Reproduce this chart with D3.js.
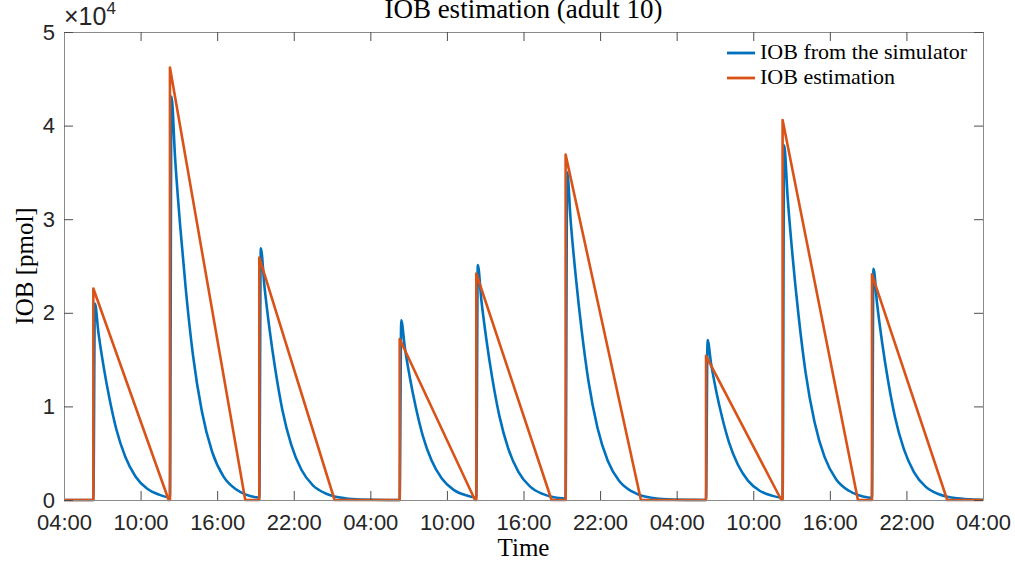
<!DOCTYPE html>
<html>
<head>
<meta charset="utf-8">
<script src="https://cdn.jsdelivr.net/npm/d3@7"></script>
<style>
  html, body { margin: 0; padding: 0; background: #fff; }
  svg { display: block; }
</style>
</head>
<body>
<div id="canvas"></div>
<script>
"use strict";

/* size of the picture */
let svgWidth = 1015;
let svgHeight = 567;
let plotLeft = 64, plotRight = 983, plotTop = 32, plotBottom = 500;

/* x axis: hours after 04:00 on day one */
let tickHours = [0, 6, 12, 18, 24, 30, 36, 42, 48, 54, 60, 66, 72];
let tickLabels = ["04:00", "10:00", "16:00", "22:00", "04:00", "10:00", "16:00",
                  "22:00", "04:00", "10:00", "16:00", "22:00", "04:00"];
let yTicks = [0, 10000, 20000, 30000, 40000, 50000];

/* IOB from the simulator (hours, pmol) */
let simHours = [0, 2.3, 2.42, 2.7, 3.1, 3.55, 4.1, 4.8, 5.6, 6.5, 7.5, 8.2,
  8.3, 8.42, 8.7, 9.1, 9.55, 10.1, 10.8, 11.6, 12.5, 13.5, 14.2, 15.0,
  15.3, 15.42, 15.7, 16.1, 16.55, 17.1, 17.8, 18.6, 19.5, 20.5, 21.2, 22.0, 23.3, 25.3,
  26.3, 26.42, 26.7, 27.1, 27.55, 28.1, 28.8, 29.6, 30.5, 31.5, 32.2,
  32.3, 32.42, 32.7, 33.1, 33.55, 34.1, 34.8, 35.6, 36.5, 37.5, 38.2, 39.0,
  39.3, 39.42, 39.7, 40.1, 40.55, 41.1, 41.8, 42.6, 43.5, 44.5, 45.2, 46.0, 47.3, 49.3,
  50.3, 50.42, 50.7, 51.1, 51.55, 52.1, 52.8, 53.6, 54.5, 55.5, 56.2,
  56.3, 56.42, 56.7, 57.1, 57.55, 58.1, 58.8, 59.6, 60.5, 61.5, 62.2, 63.0,
  63.3, 63.42, 63.7, 64.1, 64.55, 65.1, 65.8, 66.6, 67.5, 68.5, 69.2, 70.0, 71.3, 72];
let simIOB = [0, 0, 21000, 17850, 14280, 10920, 7560, 4620, 2520, 1220, 550, 290,
  280, 43100, 36640, 29310, 22410, 15520, 9480, 5170, 2500, 1120, 600, 300,
  250, 26900, 22870, 18290, 13990, 9680, 5920, 3230, 1560, 700, 380, 190, 55, 5,
  5, 19200, 16320, 13060, 9980, 6910, 4220, 2300, 1110, 500, 270,
  260, 25100, 21340, 17070, 13050, 9040, 5520, 3010, 1460, 650, 350, 175,
  150, 35000, 29750, 23800, 18200, 12600, 7700, 4200, 2030, 910, 490, 245, 70, 10,
  5, 17100, 14540, 11630, 8890, 6160, 3760, 2050, 990, 445, 240,
  235, 37900, 32220, 25770, 19710, 13640, 8340, 4550, 2200, 985, 530, 265,
  230, 24700, 21000, 16800, 12840, 8890, 5430, 2960, 1430, 640, 350, 175, 50, 25];

/* IOB estimation (hours, pmol): straight segments */
let estHours = [0, 2.3, 2.3, 8.2, 8.3, 8.3, 14.2, 15.3, 15.3, 21.2, 26.3, 26.3, 32.2,
  32.3, 32.3, 38.2, 39.3, 39.3, 45.2, 50.3, 50.3, 56.2, 56.3, 56.3, 62.2,
  63.3, 63.3, 69.2, 72];
let estIOB = [0, 0, 22600, 0, 0, 46200, 0, 0, 25900, 0, 0, 17200, 0,
  0, 24200, 0, 0, 36900, 0, 0, 15400, 0, 0, 40600, 0,
  0, 24100, 0, 0];

let seriesNames = ["IOB from the simulator", "IOB estimation"];
let seriesColors = ["#0072BD", "#D95319"];

const svg = d3.select("#canvas")
  .append("svg")
  .attr("width", svgWidth)
  .attr("height", svgHeight);

const xScale = d3.scaleLinear().domain([0, 72]).range([plotLeft, plotRight]);
const yScale = d3.scaleLinear().domain([0, 50000]).range([plotBottom, plotTop]);

const tickFont = "'Liberation Sans', Arial, Helvetica, sans-serif";
const texFont = "'Liberation Serif', 'Times New Roman', serif";

// series
const simData = simHours.map((h, i) => [h, simIOB[i]]);
const estData = estHours.map((h, i) => [h, estIOB[i]]);

const simLine = d3.line()
  .x(d => xScale(d[0]))
  .y(d => yScale(d[1]))
  .curve(d3.curveMonotoneX);

const estLine = d3.line()
  .x(d => xScale(d[0]))
  .y(d => yScale(d[1]));

svg.append("path")
  .datum(simData)
  .attr("d", simLine)
  .attr("fill", "none")
  .attr("stroke", seriesColors[0])
  .attr("stroke-width", 2.6)
  .attr("stroke-linejoin", "round");

svg.append("path")
  .datum(estData)
  .attr("d", estLine)
  .attr("fill", "none")
  .attr("stroke", seriesColors[1])
  .attr("stroke-width", 2.6)
  .attr("stroke-linejoin", "round");

// axes (ticks pointing inward, box all round)
function styleAxis(g) {
  g.select(".domain").attr("stroke", "#8a8a8a").attr("stroke-width", 1);
  g.selectAll(".tick line").attr("stroke", "#4d4d4d").attr("stroke-width", 1);
  g.selectAll(".tick text")
    .attr("fill", "#262626")
    .style("font-family", tickFont)
    .style("font-size", "22px");
}

svg.append("g")
  .attr("transform", `translate(0,${plotBottom})`)
  .call(d3.axisBottom(xScale)
    .tickValues(tickHours)
    .tickFormat((d, i) => tickLabels[i])
    .tickSizeInner(-9).tickSizeOuter(0).tickPadding(14))
  .call(styleAxis);

svg.append("g")
  .attr("transform", `translate(0,${plotTop})`)
  .call(d3.axisTop(xScale)
    .tickValues(tickHours)
    .tickFormat("")
    .tickSizeInner(-9).tickSizeOuter(0))
  .call(styleAxis);

svg.append("g")
  .attr("transform", `translate(${plotLeft},0)`)
  .call(d3.axisLeft(yScale)
    .tickValues(yTicks)
    .tickFormat(d => d / 10000)
    .tickSizeInner(-9).tickSizeOuter(0).tickPadding(9))
  .call(styleAxis);

svg.append("g")
  .attr("transform", `translate(${plotRight},0)`)
  .call(d3.axisRight(yScale)
    .tickValues(yTicks)
    .tickFormat("")
    .tickSizeInner(-9).tickSizeOuter(0))
  .call(styleAxis);

// exponent label
const expo = svg.append("text")
  .attr("x", 64)
  .attr("y", 25)
  .attr("fill", "#262626")
  .style("font-family", tickFont)
  .style("font-size", "25px");
expo.append("tspan").text("\u00d710");
expo.append("tspan")
  .attr("dy", -11)
  .style("font-size", "17px")
  .text("4");

// title and labels
svg.append("text")
  .attr("x", (plotLeft + plotRight) / 2)
  .attr("y", 18)
  .attr("text-anchor", "middle")
  .attr("fill", "#000")
  .style("font-family", texFont)
  .style("font-size", "27px")
  .text("IOB estimation (adult 10)");

svg.append("text")
  .attr("x", (plotLeft + plotRight) / 2)
  .attr("y", 556)
  .attr("text-anchor", "middle")
  .attr("fill", "#000")
  .style("font-family", texFont)
  .style("font-size", "25px")
  .text("Time");

svg.append("text")
  .attr("transform", "rotate(-90)")
  .attr("x", -(plotTop + plotBottom) / 2)
  .attr("y", 33)
  .attr("text-anchor", "middle")
  .attr("fill", "#000")
  .style("font-family", texFont)
  .style("font-size", "25px")
  .text("IOB [pmol]");

// legend
const legend = svg.append("g").attr("transform", "translate(727,53)");
seriesNames.forEach((name, i) => {
  legend.append("line")
    .attr("x1", 0).attr("x2", 28)
    .attr("y1", i * 25).attr("y2", i * 25)
    .attr("stroke", seriesColors[i])
    .attr("stroke-width", 2.8);
  legend.append("text")
    .attr("x", 33)
    .attr("y", i * 25 + 6)
    .attr("fill", "#000")
    .style("font-family", texFont)
    .style("font-size", "22px")
    .text(name);
});
</script>
</body>
</html>
